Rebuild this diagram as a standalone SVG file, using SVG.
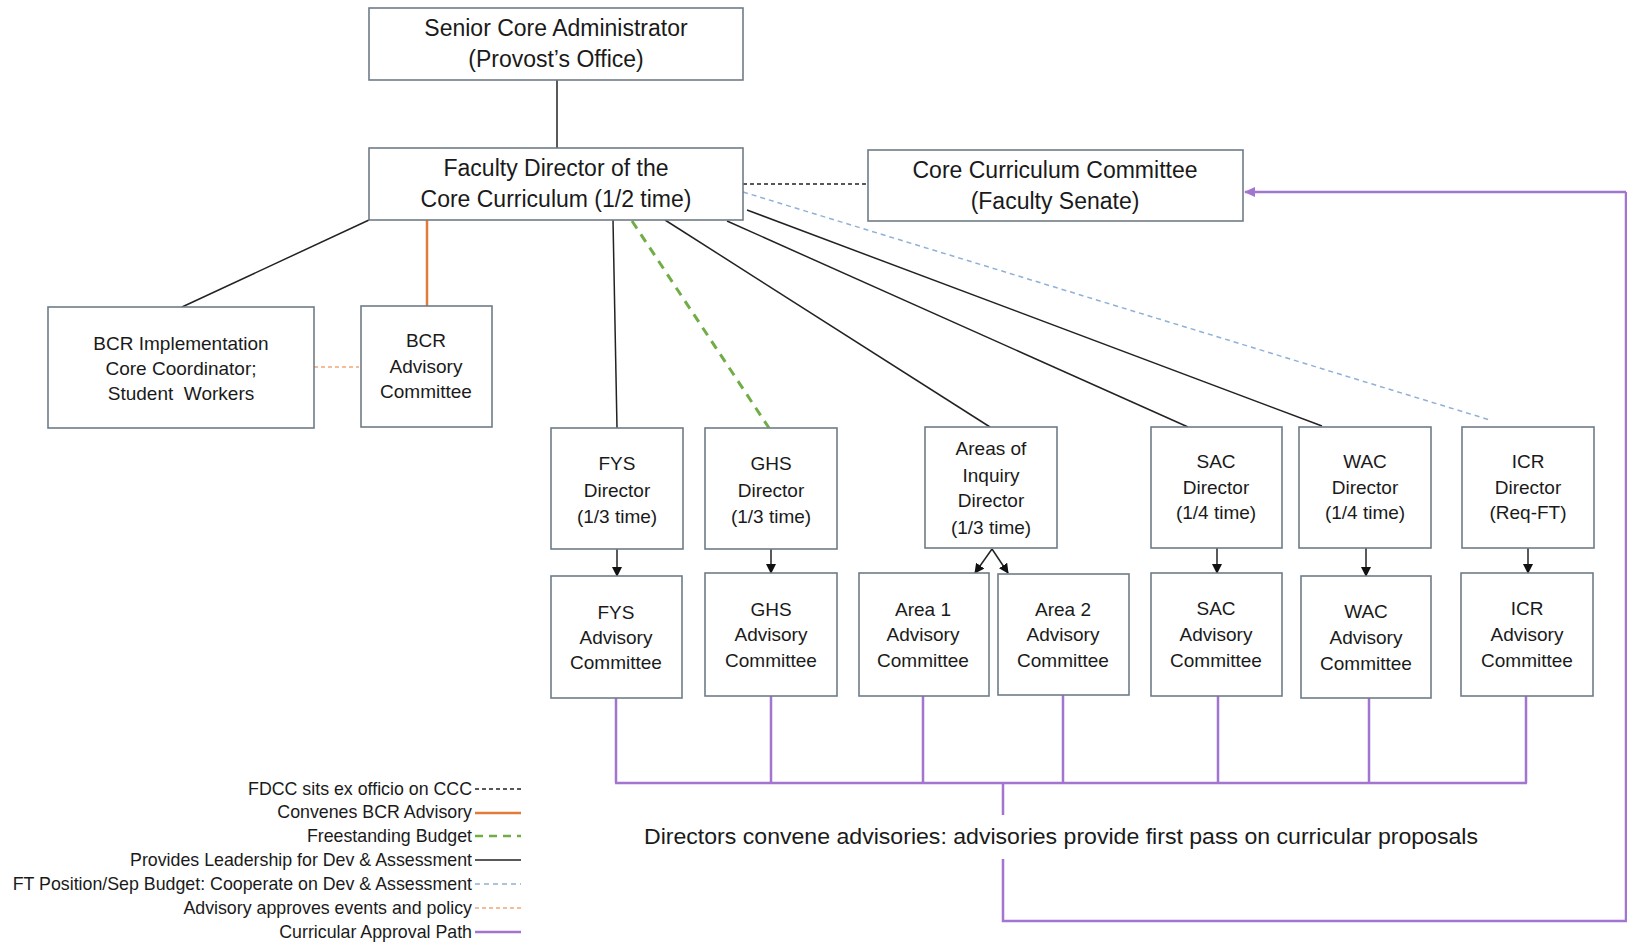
<svg xmlns="http://www.w3.org/2000/svg" width="1627" height="942" viewBox="0 0 1627 942">
<defs>
<style>
.box{fill:#fff;stroke:#6f7c88;stroke-width:1.6}
.t{font-family:"Liberation Sans",Arial,sans-serif;fill:#1a1a1a;text-anchor:middle}
.big{font-size:23px}
.sm{font-size:19px}
.lg{font-family:"Liberation Sans",Arial,sans-serif;fill:#1a1a1a;text-anchor:end;font-size:17.8px}
.solid{stroke:#222;stroke-width:1.5;fill:none}
.blkdash{stroke:#222;stroke-width:1.5;stroke-dasharray:4 3;fill:none}
.orange{stroke:#e07b39;stroke-width:2.5;fill:none}
.green{stroke:#70ad47;stroke-width:3;stroke-dasharray:9 7;fill:none}
.blue{stroke:#8fb1d6;stroke-width:1.5;stroke-dasharray:5 4;fill:none}
.ltor{stroke:#f0a878;stroke-width:1.5;stroke-dasharray:4 3;fill:none}
.purple{stroke:#a276d0;stroke-width:2.5;fill:none}
</style>
<marker id="ah" markerWidth="10" markerHeight="10" refX="9" refY="5" orient="auto" markerUnits="userSpaceOnUse">
<path d="M0,0 L10,5 L0,10 z" fill="#111"/>
</marker>
<marker id="ahp" markerWidth="12" markerHeight="12" refX="10" refY="6" orient="auto" markerUnits="userSpaceOnUse">
<path d="M0,1 L11,6 L0,11 z" fill="#a276d0"/>
</marker>
</defs>

<g id="connectors">
<line class="solid" x1="557" y1="80" x2="557" y2="148"/>
<line class="blkdash" x1="743" y1="184" x2="868" y2="184"/>
<line class="solid" x1="369" y1="220" x2="182" y2="307"/>
<line class="orange" x1="427" y1="220" x2="427" y2="306"/>
<line class="ltor" x1="314" y1="367" x2="359" y2="367"/>
<line class="solid" x1="613" y1="220" x2="617" y2="428"/>
<line class="green" x1="632" y1="221" x2="769" y2="428"/>
<line class="solid" x1="665" y1="220" x2="990" y2="427"/>
<line class="solid" x1="727" y1="221" x2="1188" y2="427"/>
<line class="solid" x1="747" y1="210" x2="1322" y2="426"/>
<line class="blue" x1="743" y1="192" x2="1490" y2="420"/>
<line class="solid" x1="617" y1="549" x2="617" y2="576" marker-end="url(#ah)"/>
<line class="solid" x1="771" y1="549" x2="771" y2="573" marker-end="url(#ah)"/>
<line class="solid" x1="992" y1="549" x2="975" y2="573" marker-end="url(#ah)"/>
<line class="solid" x1="992" y1="549" x2="1008" y2="573" marker-end="url(#ah)"/>
<line class="solid" x1="1217" y1="548" x2="1217" y2="573" marker-end="url(#ah)"/>
<line class="solid" x1="1366" y1="548" x2="1366" y2="576" marker-end="url(#ah)"/>
<line class="solid" x1="1528" y1="548" x2="1528" y2="573" marker-end="url(#ah)"/>
<path class="purple" d="M616,698 V783 M771,696 V783 M923,696 V783 M1063,695 V783 M1218,696 V783 M1369,698 V783 M1526,696 V783 M615,783 H1527 M1003,783 V815 M1003,859 V921 H1626 V192"/>
<line class="purple" x1="1626" y1="192" x2="1245" y2="192" marker-end="url(#ahp)"/>
</g>

<g id="senior"><rect class="box" x="369" y="8" width="374" height="72"/>
<text class="t big" x="556" y="36">Senior Core Administrator</text>
<text class="t big" x="556" y="67">(Provost’s Office)</text></g>

<g id="faculty"><rect class="box" x="369" y="148" width="374" height="72"/>
<text class="t big" x="556" y="176">Faculty Director of the</text>
<text class="t big" x="556" y="207">Core Curriculum (1/2 time)</text></g>

<g id="ccc"><rect class="box" x="868" y="150" width="375" height="71"/>
<text class="t big" x="1055" y="178">Core Curriculum Committee</text>
<text class="t big" x="1055" y="209">(Faculty Senate)</text></g>

<g id="bcr-impl"><rect class="box" x="48" y="307" width="266" height="121"/>
<text class="t sm" x="181" y="350">BCR Implementation</text>
<text class="t sm" x="181" y="375">Core Coordinator;</text>
<text class="t sm" x="181" y="400" xml:space="preserve">Student  Workers</text></g>

<g id="bcr-adv"><rect class="box" x="361" y="306" width="131" height="121"/>
<text class="t sm" x="426" y="347">BCR</text>
<text class="t sm" x="426" y="373">Advisory</text>
<text class="t sm" x="426" y="398">Committee</text></g>

<g id="fys-dir"><rect class="box" x="551" y="428" width="132" height="121"/>
<text class="t sm" x="617" y="470">FYS</text>
<text class="t sm" x="617" y="497">Director</text>
<text class="t sm" x="617" y="523">(1/3 time)</text></g>

<g id="ghs-dir"><rect class="box" x="705" y="428" width="132" height="121"/>
<text class="t sm" x="771" y="470">GHS</text>
<text class="t sm" x="771" y="497">Director</text>
<text class="t sm" x="771" y="523">(1/3 time)</text></g>

<g id="aoi-dir"><rect class="box" x="925" y="427" width="132" height="121"/>
<text class="t sm" x="991" y="455">Areas of</text>
<text class="t sm" x="991" y="482">Inquiry</text>
<text class="t sm" x="991" y="507">Director</text>
<text class="t sm" x="991" y="534">(1/3 time)</text></g>

<g id="sac-dir"><rect class="box" x="1151" y="427" width="131" height="121"/>
<text class="t sm" x="1216" y="468">SAC</text>
<text class="t sm" x="1216" y="494">Director</text>
<text class="t sm" x="1216" y="519">(1/4 time)</text></g>

<g id="wac-dir"><rect class="box" x="1299" y="427" width="132" height="121"/>
<text class="t sm" x="1365" y="468">WAC</text>
<text class="t sm" x="1365" y="494">Director</text>
<text class="t sm" x="1365" y="519">(1/4 time)</text></g>

<g id="icr-dir"><rect class="box" x="1462" y="427" width="132" height="121"/>
<text class="t sm" x="1528" y="468">ICR</text>
<text class="t sm" x="1528" y="494">Director</text>
<text class="t sm" x="1528" y="519">(Req-FT)</text></g>

<g id="fys-adv"><rect class="box" x="551" y="576" width="131" height="122"/>
<text class="t sm" x="616" y="619">FYS</text>
<text class="t sm" x="616" y="644">Advisory</text>
<text class="t sm" x="616" y="669">Committee</text></g>

<g id="ghs-adv"><rect class="box" x="705" y="573" width="132" height="123"/>
<text class="t sm" x="771" y="616">GHS</text>
<text class="t sm" x="771" y="641">Advisory</text>
<text class="t sm" x="771" y="667">Committee</text></g>

<g id="area1-adv"><rect class="box" x="859" y="573" width="130" height="123"/>
<text class="t sm" x="923" y="616">Area 1</text>
<text class="t sm" x="923" y="641">Advisory</text>
<text class="t sm" x="923" y="667">Committee</text></g>

<g id="area2-adv"><rect class="box" x="998" y="574" width="131" height="121"/>
<text class="t sm" x="1063" y="616">Area 2</text>
<text class="t sm" x="1063" y="641">Advisory</text>
<text class="t sm" x="1063" y="667">Committee</text></g>

<g id="sac-adv"><rect class="box" x="1151" y="573" width="131" height="123"/>
<text class="t sm" x="1216" y="615">SAC</text>
<text class="t sm" x="1216" y="641">Advisory</text>
<text class="t sm" x="1216" y="667">Committee</text></g>

<g id="wac-adv"><rect class="box" x="1301" y="576" width="130" height="122"/>
<text class="t sm" x="1366" y="618">WAC</text>
<text class="t sm" x="1366" y="644">Advisory</text>
<text class="t sm" x="1366" y="670">Committee</text></g>

<g id="icr-adv"><rect class="box" x="1461" y="573" width="132" height="123"/>
<text class="t sm" x="1527" y="615">ICR</text>
<text class="t sm" x="1527" y="641">Advisory</text>
<text class="t sm" x="1527" y="667">Committee</text></g>

<g id="path-label">
<text class="t" style="font-size:22.5px" x="1061" y="844" textLength="834" lengthAdjust="spacingAndGlyphs">Directors convene advisories: advisories provide first pass on curricular proposals</text>
</g>

<g id="legend">
<text class="lg" x="472" y="795">FDCC sits ex officio on CCC</text>
<line class="blkdash" x1="475" y1="789" x2="521" y2="789"/>
<text class="lg" x="472" y="818">Convenes BCR Advisory</text>
<line class="orange" x1="475" y1="813" x2="521" y2="813"/>
<text class="lg" x="472" y="842">Freestanding Budget</text>
<line stroke="#70ad47" stroke-width="2.5" stroke-dasharray="8 6" x1="475" y1="836" x2="521" y2="836"/>
<text class="lg" x="472" y="866">Provides Leadership for Dev &amp; Assessment</text>
<line class="solid" x1="475" y1="860" x2="521" y2="860"/>
<text class="lg" x="472" y="890">FT Position/Sep Budget: Cooperate on Dev &amp; Assessment</text>
<line class="blue" x1="475" y1="884" x2="521" y2="884"/>
<text class="lg" x="472" y="914">Advisory approves events and policy</text>
<line class="ltor" x1="475" y1="908" x2="521" y2="908"/>
<text class="lg" x="472" y="938">Curricular Approval Path</text>
<line class="purple" x1="475" y1="932" x2="521" y2="932"/>
</g>
</svg>
